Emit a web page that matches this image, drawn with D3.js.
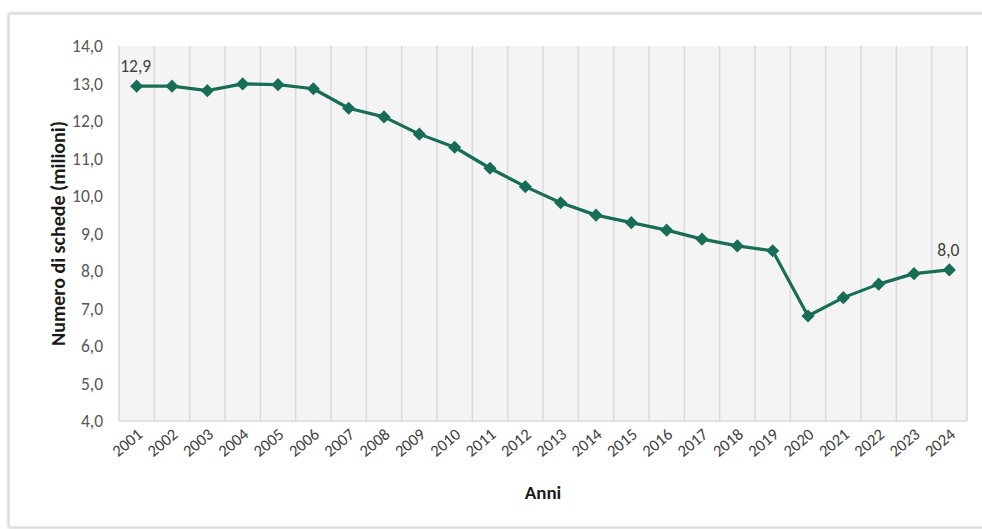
<!DOCTYPE html>
<html>
<head>
<meta charset="utf-8">
<script src="https://cdn.jsdelivr.net/npm/d3@7"></script>
<style>
  html, body { margin: 0; padding: 0; background: #ffffff; }
  svg { display: block; }
  text { font-family: Carlito, Lato, "Open Sans", sans-serif; }
</style>
</head>
<body>
<svg id="chart" width="982" height="529"></svg>
<script>
const years = ["2001","2002","2003","2004","2005","2006","2007","2008","2009","2010","2011","2012","2013","2014","2015","2016","2017","2018","2019","2020","2021","2022","2023","2024"];
const values = [12.93, 12.93, 12.81, 12.99, 12.97, 12.86, 12.34, 12.11, 11.65, 11.30, 10.74, 10.25, 9.82, 9.49, 9.29, 9.09, 8.85, 8.67, 8.54, 6.80, 7.29, 7.65, 7.93, 8.03];
const yTicks = [4, 5, 6, 7, 8, 9, 10, 11, 12, 13, 14];
const labelled = [{i: 0, text: "12,9"}, {i: 23, text: "8,0"}];
const yTitle = "Numero di schede (milioni)";
const xTitle = "Anni";

const svg = d3.select("#chart");
const plot = {left: 119, right: 967, top: 46, bottom: 421};

// frame with shadow
const defs = svg.append("defs");
const f = defs.append("filter").attr("id", "shadow").attr("x", "-5%").attr("y", "-5%").attr("width", "110%").attr("height", "110%");
f.append("feDropShadow").attr("dx", 0).attr("dy", 0).attr("stdDeviation", 1.5).attr("flood-color", "#000").attr("flood-opacity", 0.35);
svg.append("rect").attr("x", 9).attr("y", 14).attr("width", 990).attr("height", 513)
  .attr("fill", "#ffffff").attr("stroke", "#d6d6d6").attr("stroke-width", 1.2).attr("filter", "url(#shadow)");

const x = d3.scaleBand().domain(years).range([plot.left, plot.right]).padding(0);
const y = d3.scaleLinear().domain([4, 14]).range([plot.bottom, plot.top]);

// plot background
svg.append("rect").attr("x", plot.left).attr("y", plot.top)
  .attr("width", plot.right - plot.left).attr("height", plot.bottom - plot.top)
  .attr("fill", "#f4f4f4");

// vertical gridlines at band boundaries
const bounds = years.map(d => x(d)).concat([x(years[years.length - 1]) + x.bandwidth()]);
svg.append("g").selectAll("line").data(bounds).join("line")
  .attr("x1", d => d).attr("x2", d => d).attr("y1", plot.top).attr("y2", plot.bottom)
  .attr("stroke", "#d9d9d9").attr("stroke-width", 1.5);

// bottom axis line
svg.append("line").attr("x1", plot.left).attr("x2", plot.right).attr("y1", plot.bottom).attr("y2", plot.bottom)
  .attr("stroke", "#d9d9d9").attr("stroke-width", 1.5);

// y axis
const fmt = d => d3.format(".1f")(d).replace(".", ",");
const yAxis = svg.append("g").attr("transform", `translate(${plot.left - 16},0)`)
  .call(d3.axisLeft(y).tickValues(yTicks).tickFormat(fmt).tickSize(0).tickPadding(0));
yAxis.select(".domain").remove();
yAxis.selectAll("text").attr("font-size", 17.5).attr("fill", "#595959");

// x axis
const xAxis = svg.append("g").attr("transform", `translate(0,${plot.bottom})`)
  .call(d3.axisBottom(x).tickSize(0).tickPadding(0));
xAxis.select(".domain").remove();
xAxis.selectAll("text")
  .attr("font-size", 16.5).attr("fill", "#404040")
  .attr("text-anchor", "end").attr("dy", null).attr("y", 0)
  .attr("transform", "translate(7,15) rotate(-40)");

// line
const line = d3.line().x((d, i) => x(years[i]) + x.bandwidth() / 2).y(d => y(d));
svg.append("path").datum(values).attr("d", line)
  .attr("fill", "none").attr("stroke", "#186d57").attr("stroke-width", 3.2).attr("stroke-linejoin", "round");

// diamond markers
const diamond = d3.symbol().type(d3.symbolDiamond2).size(110);
svg.append("g").selectAll("path").data(values).join("path")
  .attr("d", diamond)
  .attr("transform", (d, i) => `translate(${x(years[i]) + x.bandwidth() / 2},${y(d)})`)
  .attr("fill", "#186d57");

// data labels
svg.append("g").selectAll("text").data(labelled).join("text")
  .attr("x", d => x(years[d.i]) + x.bandwidth() / 2 - 1)
  .attr("y", d => y(values[d.i]) - 14)
  .attr("text-anchor", "middle")
  .attr("font-size", 17.5).attr("fill", "#404040")
  .text(d => d.text);

// titles
svg.append("text")
  .attr("transform", `translate(65,${(plot.top + plot.bottom) / 2}) rotate(-90)`)
  .attr("text-anchor", "middle").attr("font-size", 20).attr("font-weight", "bold").attr("fill", "#1a1a1a")
  .text(yTitle);
svg.append("text")
  .attr("x", (plot.left + plot.right) / 2).attr("y", 499)
  .attr("text-anchor", "middle").attr("font-size", 19).attr("font-weight", "bold").attr("fill", "#1a1a1a")
  .text(xTitle);
</script>
</body>
</html>
